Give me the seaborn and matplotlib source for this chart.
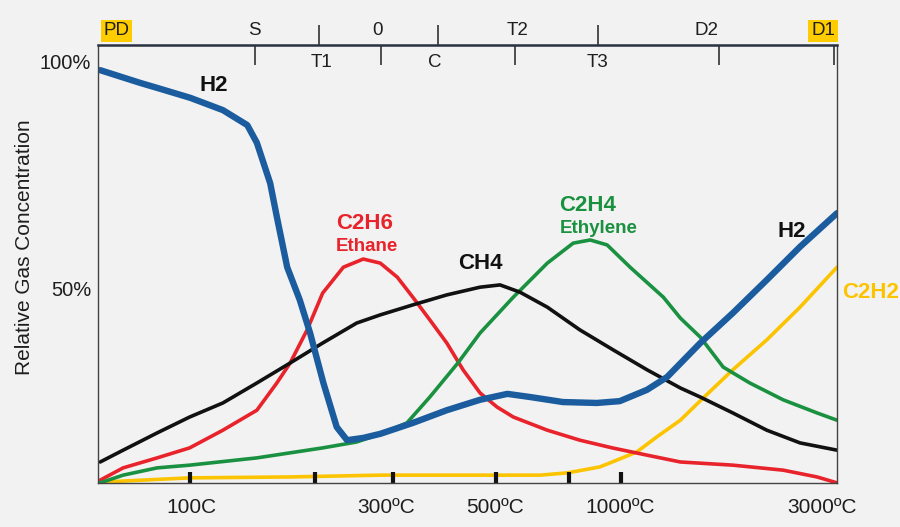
import matplotlib
matplotlib.use('Agg')
import matplotlib.pyplot as plt
import pandas as pd
import seaborn as sns

# x = position along the temperature scale (0 = left edge, 100 = right edge)
# y = relative gas concentration (%)
h2_x = [0.3, 5.7, 8.0, 12.5, 16.9, 20.2, 21.5, 23.3, 24.2, 25.6, 27.3, 28.7, 30.5, 32.3,
        33.7, 35.9, 38.2, 42.6, 47.2, 51.7, 55.4, 58.5, 62.9, 67.5, 70.6, 74.3, 77.0,
        81.5, 85.9, 90.5, 95.0, 100.0]
h2_y = [98.2, 95.4, 94.3, 92.1, 89.4, 86.1, 82.2, 73.3, 65.9, 54.8, 47.6, 40.3, 29.3, 19.6,
        16.7, 17.2, 18.1, 20.5, 23.3, 25.6, 26.9, 26.2, 25.1, 24.9, 25.3, 27.8, 30.6,
        38.1, 44.7, 52.0, 59.3, 66.7]

c2h6_x = [0.3, 3.4, 8.0, 12.4, 16.9, 21.5, 24.2, 26.0, 28.3, 30.4, 33.2, 35.9, 38.2, 40.5,
          42.6, 44.9, 47.2, 49.4, 51.7, 54.0, 56.2, 60.8, 65.2, 69.6, 74.3, 78.8, 85.9,
          92.7, 97.3, 100.0]
c2h6_y = [7.9, 10.6, 12.8, 15.0, 18.9, 23.3, 29.3, 33.7, 41.0, 49.1, 54.8, 56.6, 55.7, 52.6,
          48.2, 43.2, 38.1, 32.2, 27.1, 24.0, 21.8, 18.9, 16.7, 15.0, 13.4, 11.9, 11.2,
          10.1, 8.6, 7.3]

ch4_x = [0.3, 3.4, 8.0, 12.4, 16.9, 21.5, 26.0, 30.4, 35.0, 38.2, 42.6, 47.2, 51.7, 54.4,
         57.1, 60.8, 65.2, 69.7, 74.3, 78.8, 81.5, 85.9, 90.5, 95.0, 100.0]
ch4_y = [11.9, 14.5, 18.3, 21.8, 24.9, 29.3, 33.7, 38.1, 42.5, 44.3, 46.5, 48.7, 50.4, 50.9,
         49.3, 46.0, 41.0, 36.6, 32.2, 28.2, 26.2, 22.7, 18.9, 16.1, 14.5]

c2h4_x = [0.3, 3.4, 8.0, 12.4, 21.5, 30.4, 35.0, 38.6, 41.8, 44.9, 48.7, 51.7, 56.2, 60.8,
          64.3, 66.6, 68.9, 72.0, 76.5, 78.8, 81.5, 84.6, 88.2, 92.7, 97.3, 100.0]
c2h4_y = [7.3, 9.0, 10.6, 11.2, 12.8, 15.0, 16.3, 18.3, 20.5, 26.2, 33.7, 40.3, 48.2, 55.7,
          60.1, 60.8, 59.7, 54.8, 48.2, 43.6, 39.4, 32.8, 29.3, 25.6, 22.7, 21.1]

c2h2_x = [0.9, 12.4, 26.0, 38.2, 51.7, 59.8, 63.5, 67.9, 70.2, 72.9, 75.6, 78.8, 81.9,
          85.9, 90.5, 95.0, 100.0]
c2h2_y = [7.5, 8.4, 8.6, 9.0, 9.0, 9.0, 9.5, 10.8, 12.3, 14.1, 17.4, 21.1, 26.0,
          32.2, 38.8, 46.0, 54.8]

# top scale (fault zones) and bottom scale (temperatures)
top_above = ['S', '0', 'T2', 'D2']
top_above_ticks = [21.2, 38.3, 56.4, 84.0]
top_above_text = [21.2, 37.8, 56.8, 82.3]
top_below = ['T1', 'C', 'T3']
top_below_ticks = [29.9, 46.0, 67.7]
top_below_text = [30.3, 45.6, 67.6]
top_ends = ['PD', 'D1']
top_ends_text = [2.5, 98.1]
d1_tick = 99.6

temp_labels = ['100C', '300ºC', '500ºC', '1000ºC', '3000ºC']
temp_pos = [12.7, 39.0, 53.7, 70.6, 98.0]
temp_marks = [12.4, 29.4, 39.9, 53.9, 63.7, 70.8]

BG = '#f2f2f2'
BLUE = '#1b5c9e'
RED = '#e8232b'
GREEN = '#1a9140'
BLACK = '#111111'
YELLOW = '#fcc400'
TXT = '#1e1e1e'

sns.set_theme(style='white')
plt.rcParams['font.family'] = ['Liberation Sans', 'DejaVu Sans']

fig = plt.figure(figsize=(9, 5.27), dpi=100, facecolor=BG)
ax = fig.add_axes([98 / 900, 1 - 483 / 527, 739 / 900, 438 / 527])
ax.set_facecolor(BG)

series = [
    (c2h2_x, c2h2_y, YELLOW, 2.6),
    (c2h6_x, c2h6_y, RED, 2.6),
    (c2h4_x, c2h4_y, GREEN, 2.6),
    (ch4_x, ch4_y, BLACK, 2.6),
    (h2_x, h2_y, BLUE, 4.6),
]
for xs, ys, col, lw in series:
    df = pd.DataFrame({'x': xs, 'y': ys})
    sns.lineplot(data=df, x='x', y='y', color=col, linewidth=lw, ax=ax,
                 solid_capstyle='round', solid_joinstyle='round')

ax.set_xlim(0, 100)
ax.set_ylim(50 - 194 / 4.54, 50 + 244 / 4.54)

# y axis
ax.set_yticks([100, 50])
ax.set_yticklabels(['100%', '50%'])
ax.tick_params(axis='y', length=0, pad=5, labelsize=14.5, colors=TXT)
ax.set_ylabel('Relative Gas Concentration', fontsize=15, color=TXT)
ax.yaxis.set_label_coords(-64 / 739, 0.538)

# bottom temperature scale
ax.set_xticks(temp_pos)
ax.set_xticklabels(temp_labels)
ax.tick_params(axis='x', length=0, pad=11, labelsize=15, colors=TXT)
ax.set_xlabel('')
xt = ax.get_xaxis_transform()
ax.vlines(temp_marks, 0, 0.024, transform=xt, color=BLACK, linewidth=3, clip_on=False)

# top fault-zone scale
ax.vlines(top_above_ticks + [d1_tick], 1 - 0.045, 1, transform=xt, color='#333333',
          linewidth=1.2, clip_on=False)
ax.vlines(top_below_ticks, 1, 1.046, transform=xt, color='#333333',
          linewidth=1.2, clip_on=False)
for lab, xp in zip(top_above, top_above_text):
    ax.text(xp, 1.032, lab, transform=xt, ha='center', va='center', fontsize=13.5, color=TXT)
for lab, xp in zip(top_below, top_below_text):
    ax.text(xp, 0.961, lab, transform=xt, ha='center', va='center', fontsize=13.5, color=TXT)
for lab, xp in zip(top_ends, top_ends_text):
    ax.text(xp, 1.032, lab, transform=xt, ha='center', va='center', fontsize=13.5, color=TXT,
            bbox=dict(boxstyle='square,pad=0.15', facecolor='#ffcc00', edgecolor='none'))

# curve labels
big = dict(fontsize=16, fontweight='bold', ha='center', va='center')
small = dict(fontsize=13.5, fontweight='bold', ha='center', va='center')
ax.text(15.6, 94.9, 'H2', color=BLACK, **big)
ax.text(36.1, 64.5, 'C2H6', color=RED, **big)
ax.text(36.4, 59.3, 'Ethane', color=RED, **small)
ax.text(51.7, 55.7, 'CH4', color=BLACK, **big)
ax.text(66.3, 68.5, 'C2H4', color=GREEN, **big)
ax.text(67.7, 63.4, 'Ethylene', color=GREEN, **small)
ax.text(93.9, 62.6, 'H2', color=BLACK, **big)
ax.text(104.6, 49.3, 'C2H2', color=YELLOW, clip_on=False, **big)

for side in ['left', 'right', 'bottom']:
    ax.spines[side].set_color('#444444')
    ax.spines[side].set_linewidth(1.0)
ax.spines['top'].set_color('#2a3140')
ax.spines['top'].set_linewidth(1.8)

fig.savefig('out.png', dpi=100, facecolor=BG)
